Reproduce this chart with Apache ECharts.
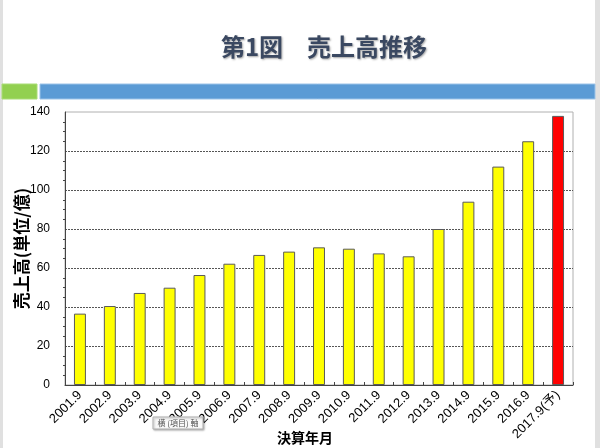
<!DOCTYPE html>
<html><head><meta charset="utf-8">
<script src="https://cdn.jsdelivr.net/npm/echarts@6/dist/echarts.min.js"></script>
<style>html,body{margin:0;padding:0;background:#fff}#c{width:600px;height:448px}</style>
</head><body><div id="c"></div>
<script>
const categories = ['2001.9','2002.9','2003.9','2004.9','2005.9','2006.9','2007.9','2008.9','2009.9','2010.9','2011.9','2012.9','2013.9','2014.9','2015.9','2016.9','2017.9(予)'];
const sales = [36.6, 40.5, 47.2, 49.9, 56.4, 62.2, 66.7, 68.4, 70.6, 69.9, 67.5, 66, 80, 94, 112, 125, 138];
const yTicks = [0, 20, 40, 60, 80, 100, 120, 140];
const forecastIndex = 16;

const chart = echarts.init(document.getElementById('c'), null, {renderer: 'canvas'});
const font = '"Liberation Sans", Arial, "Noto Sans CJK JP", sans-serif';
chart.setOption({
  animation: false,
  textStyle: {fontFamily: font},
  graphic: [
    {type: 'rect', shape: {x: 0, y: 0, width: 3, height: 448}, style: {fill: '#e0e0e0'}, silent: true},
    {type: 'rect', shape: {x: 595, y: 0, width: 5, height: 448}, style: {fill: '#e0e0e0'}, silent: true},
    {type: 'rect', shape: {x: 2, y: 84, width: 35, height: 15}, style: {fill: '#92d050', stroke: '#a9dc77', lineWidth: 1}, silent: true},
    {type: 'rect', shape: {x: 40, y: 84, width: 555, height: 15}, style: {fill: '#5b9bd5', stroke: '#9cc3e8', lineWidth: 1}, silent: true},
    {type: 'text', x: 324, y: 47, style: {text: '第1図　売上高推移', font: 'bold 24px "Noto Sans CJK JP", sans-serif', fill: '#3a4861', align: 'center', verticalAlign: 'middle', textShadowColor: 'rgba(0,0,0,0.35)', textShadowBlur: 2, textShadowOffsetX: 1, textShadowOffsetY: 1}, silent: true},
    {type: 'text', x: 305, y: 438, style: {text: '決算年月', font: 'bold 14px "Noto Sans CJK JP", sans-serif', fill: '#000', align: 'center', verticalAlign: 'middle'}, silent: true},
    {type: 'rect', shape: {x: 153, y: 417, width: 50, height: 12}, style: {fill: '#fafafa', stroke: '#b0b0b0', lineWidth: 1, shadowColor: 'rgba(0,0,0,0.3)', shadowBlur: 2, shadowOffsetX: 1, shadowOffsetY: 1}, z: 100, silent: true},
    {type: 'text', x: 178, y: 423, style: {text: '横 (項目) 軸', font: '8px "Noto Sans CJK JP", sans-serif', fill: '#555', align: 'center', verticalAlign: 'middle'}, z: 101, silent: true}
  ],
  grid: {left: 65, right: 27, top: 112, bottom: 63, show: true, borderColor: '#b0b0b0', borderWidth: 1, backgroundColor: 'transparent'},
  xAxis: {
    type: 'category', data: categories,
    axisLine: {lineStyle: {color: '#444', width: 1}},
    axisTick: {show: true, inside: true, length: 3, lineStyle: {color: '#444'}},
    axisLabel: {rotate: 45, fontSize: 13, color: '#000', margin: 8, interval: 0, fontFamily: font}
  },
  yAxis: {
    type: 'value', min: 0, max: 140, interval: 20,
    name: '売上高(単位/億)', nameLocation: 'middle', nameGap: 35, nameRotate: 90, nameMoveOverlap: false,
    nameTextStyle: {fontSize: 17, fontWeight: 'bold', color: '#000', fontFamily: '"Noto Sans CJK JP", sans-serif'},
    axisLine: {show: true, lineStyle: {color: '#444', width: 1}},
    axisTick: {show: false},
    minorTick: {show: true, splitNumber: 4, length: 2, lineStyle: {color: '#444'}},
    axisLabel: {fontSize: 12, color: '#000', margin: 15, fontFamily: font,
      formatter: v => yTicks.indexOf(v) >= 0 ? String(v) : ''},
    splitLine: {show: true, showMinLine: false, showMaxLine: false, lineStyle: {color: '#555', type: [2, 1], width: 1}}
  },
  series: [{
    type: 'bar', barWidth: '40%',
    data: sales.map((v, i) => ({value: v, itemStyle: {color: i === forecastIndex ? '#ff0000' : '#ffff00'}})),
    itemStyle: {borderColor: '#5a5a5a', borderWidth: 1}
  }]
});
</script></body></html>
